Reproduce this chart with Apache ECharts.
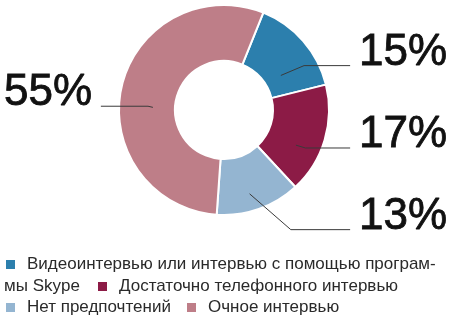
<!DOCTYPE html>
<html>
<head>
<meta charset="utf-8">
<script src="https://cdn.jsdelivr.net/npm/echarts@6/dist/echarts.min.js"></script>
<style>html,body{margin:0;padding:0;background:#fff;}#chart{width:451px;height:320px;}</style>
</head>
<body>
<div id="chart"></div>
<script>
const categories = ['Видеоинтервью или интервью с помощью программы Skype', 'Достаточно телефонного интервью', 'Нет предпочтений', 'Очное интервью'];
const values = [15, 17, 13, 55];
const legendLabels = ['Видеоинтервью или интервью с помощью програм-', 'Достаточно телефонного интервью', 'Нет предпочтений', 'Очное интервью'];
const legendContinuation = 'мы Skype';
const colors = ['#2c7fad', '#8c1b46', '#94b5d1', '#be7e88'];
const lineLengths = [15, 10, 38, 5];
const lineTurns = [157, 90, 139, 90];

const FONT = '"Liberation Sans", Arial, Helvetica, sans-serif';
const chart = echarts.init(document.getElementById('chart'), null, {renderer: 'canvas'});

const mainData = categories.map((n, i) => ({name: n, value: values[i], itemStyle: {color: colors[i]}}));
const labelData = categories.map((n, i) => ({name: n, value: values[i], labelLine: {length: lineLengths[i], minTurnAngle: lineTurns[i]}}));

const legendPos = [
  {left: 4, top: 256},
  {left: 96, top: 278},
  {left: 4, top: 299},
  {left: 185, top: 299}
];

const legends = categories.map((n, i) => ({
  data: [n],
  left: legendPos[i].left,
  top: legendPos[i].top,
  padding: 0,
  orient: 'horizontal',
  itemWidth: 11,
  itemHeight: 11,
  icon: 'rect',
  selectedMode: false,
  formatter: () => legendLabels[i],
  textStyle: {fontSize: 17, color: '#2a2a2a', fontFamily: FONT, padding: [0, 0, 0, 6]}
}));

chart.setOption({
  animation: false,
  title: {
    text: legendContinuation,
    left: 4,
    top: 278,
    padding: 0,
    textStyle: {fontSize: 17, fontWeight: 'normal', color: '#2a2a2a', fontFamily: FONT}
  },
  legend: legends,
  series: [
    {
      type: 'pie',
      z: 2,
      center: [224, 110],
      radius: [49, 105],
      startAngle: 68,
      clockwise: true,
      silent: true,
      label: {show: false},
      labelLine: {show: false},
      itemStyle: {borderColor: '#fff', borderWidth: 2},
      emphasis: {disabled: true},
      data: mainData
    },
    {
      type: 'pie',
      z: 5,
      center: [225, 124],
      radius: [0, 74],
      startAngle: 68,
      clockwise: true,
      silent: true,
      itemStyle: {color: 'rgba(0,0,0,0)', borderWidth: 0},
      emphasis: {disabled: true},
      avoidLabelOverlap: true,
      label: {
        show: true,
        position: 'outside',
        formatter: '{v|{c}%}\n{s|}',
        alignTo: 'edge',
        edgeDistance: 4,
        distanceToLabelLine: 8,
        color: '#111',
        fontFamily: FONT,
        rich: {
          v: {fontSize: 44, lineHeight: 40, color: '#111', fontFamily: FONT, textBorderColor: '#111', textBorderWidth: 0.8},
          s: {fontSize: 10, lineHeight: 26, height: 26}
        }
      },
      labelLine: {show: true, length2: 10, lineStyle: {color: '#3a3a3a', width: 1}},
      data: labelData
    }
  ]
});
</script>
</body>
</html>
